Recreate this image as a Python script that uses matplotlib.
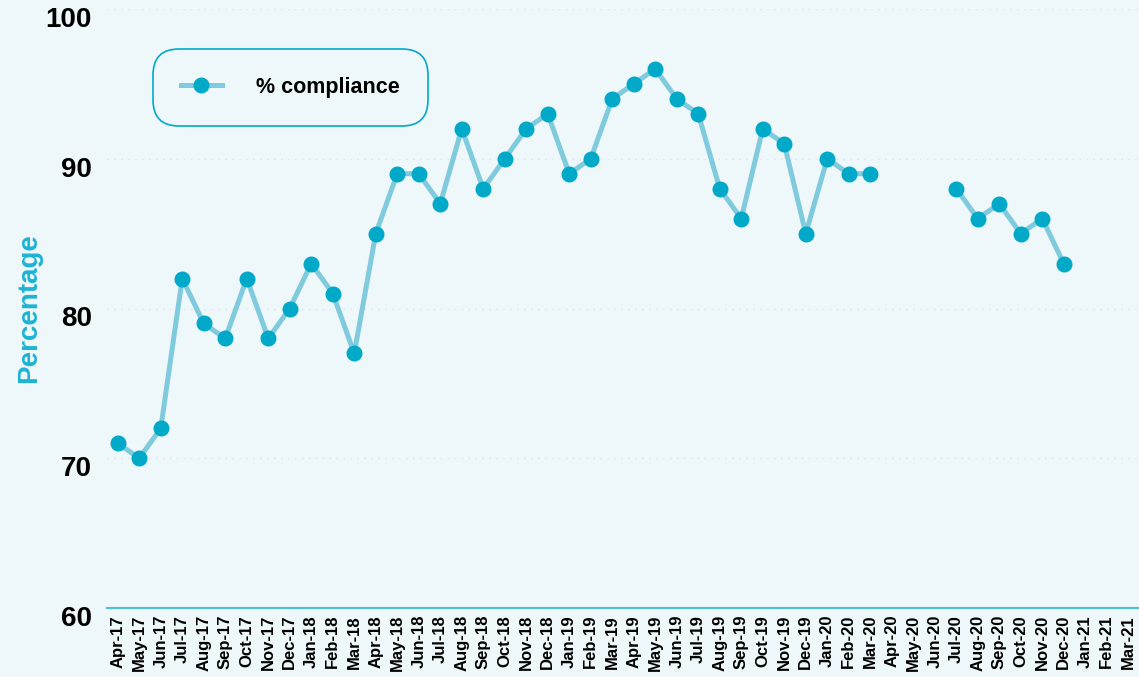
import numpy as np
import matplotlib
matplotlib.use("Agg")
import matplotlib.pyplot as plt
import matplotlib.transforms as mtransforms

plt.rcParams['font.family'] = ['Liberation Sans', 'DejaVu Sans']

# monthly compliance (NaN = no data)
months = ['Apr-17', 'May-17', 'Jun-17', 'Jul-17', 'Aug-17', 'Sep-17', 'Oct-17', 'Nov-17',
          'Dec-17', 'Jan-18', 'Feb-18', 'Mar-18', 'Apr-18', 'May-18', 'Jun-18', 'Jul-18',
          'Aug-18', 'Sep-18', 'Oct-18', 'Nov-18', 'Dec-18', 'Jan-19', 'Feb-19', 'Mar-19',
          'Apr-19', 'May-19', 'Jun-19', 'Jul-19', 'Aug-19', 'Sep-19', 'Oct-19', 'Nov-19',
          'Dec-19', 'Jan-20', 'Feb-20', 'Mar-20', 'Apr-20', 'May-20', 'Jun-20', 'Jul-20',
          'Aug-20', 'Sep-20', 'Oct-20', 'Nov-20', 'Dec-20', 'Jan-21', 'Feb-21', 'Mar-21']
compliance = [71, 70, 72, 82, 79, 78, 82, 78,
              80, 83, 81, 77, 85, 89, 89, 87,
              92, 88, 90, 92, 93, 89, 90, 94,
              95, 96, 94, 93, 88, 86, 92, 91,
              85, 90, 89, 89, np.nan, np.nan, np.nan, 88,
              86, 87, 85, 86, 83, np.nan, np.nan, np.nan]
y_ticks = [60, 70, 80, 90, 100]

bg = '#eef7fa'
line_col = '#7fcbdd'
marker_col = '#00a9c8'

fig = plt.figure(figsize=(11.39, 6.77), dpi=100, facecolor=bg)
ax = fig.add_axes([107 / 1139, 69 / 677, 1 - 107 / 1139, 599 / 677])
ax.set_facecolor(bg)

x = np.arange(len(months))
ax.plot(x, compliance, color=line_col, lw=3.6, marker='o', markersize=10.5,
        markerfacecolor=marker_col, markeredgecolor=marker_col, label='% compliance', zorder=3)

ax.set_xlim(-0.5, len(months) - 0.5)
ax.set_ylim(60, 100)
ax.set_yticks(y_ticks)
ax.set_xticks(x)
ax.set_xticklabels(months, rotation=90, fontsize=12, fontweight='bold')
ax.tick_params(axis='y', length=0, pad=11)
ax.tick_params(axis='x', length=0, pad=5)

# y tick labels sit a little below their gridlines in the reference
offset = mtransforms.ScaledTranslation(0, -8 / 100, fig.dpi_scale_trans)
for lab in ax.get_yticklabels():
    lab.set_fontsize(20)
    lab.set_fontweight('bold')
    lab.set_transform(lab.get_transform() + offset)

ax.grid(axis='y', color='#d8e8ee', linestyle=(0, (1, 4)), lw=1)
for s in ['top', 'right', 'left']:
    ax.spines[s].set_visible(False)
ax.spines['bottom'].set_color('#4cc0d8')
ax.spines['bottom'].set_linewidth(1.5)

ax.set_ylabel('Percentage', fontsize=20, fontweight='bold', color='#1eb3d3')
ax.yaxis.set_label_coords(-65 / 1032, 0.5)

leg = ax.legend(loc='upper left', bbox_to_anchor=(46 / 1032, 1 - 40 / 599),
                prop={'weight': 'bold', 'size': 15.5}, frameon=True, fancybox=True,
                borderpad=1.3, handlelength=1.9, handletextpad=1.6, borderaxespad=0)
frame = leg.get_frame()
frame.set_edgecolor('#00aacc')
frame.set_facecolor(bg)
frame.set_linewidth(1.2)
frame.set_alpha(1)
frame.set_boxstyle('round,pad=0.0,rounding_size=1.2')

fig.savefig('out.png', dpi=100, facecolor=bg)
